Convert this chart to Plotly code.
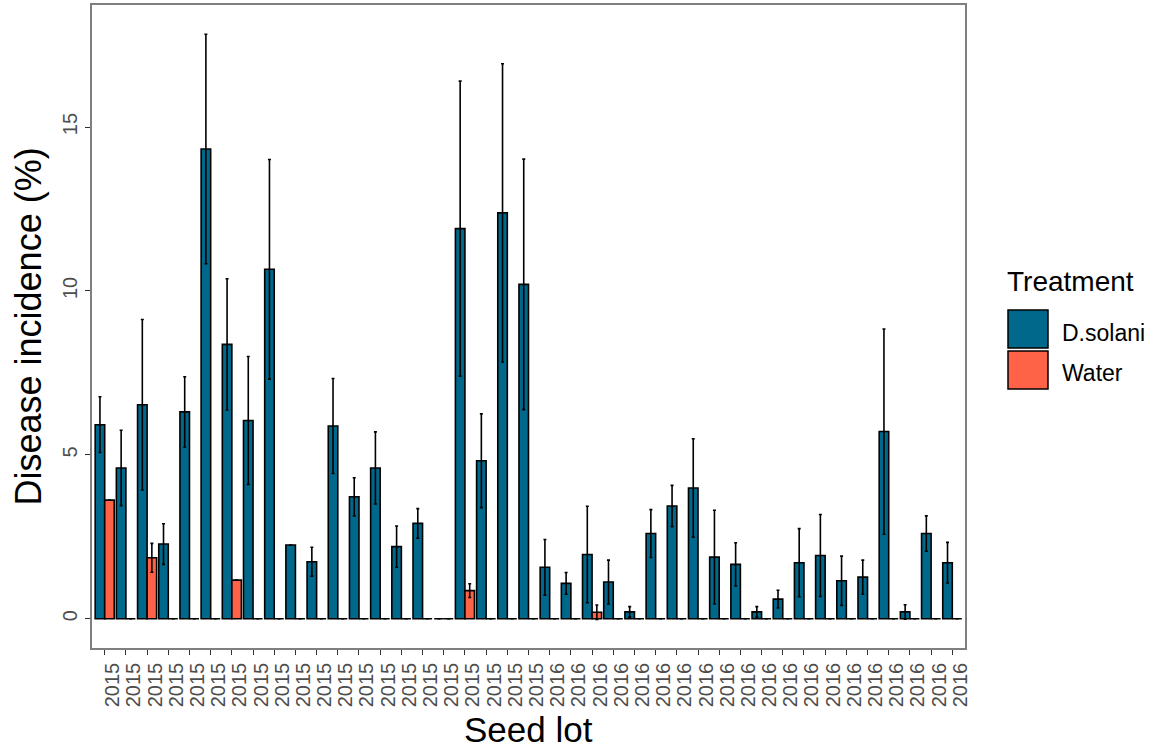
import plotly.graph_objects as go

# ---------------- data ----------------
seed_lot_years = ["2015"] * 21 + ["2016"] * 20

dsolani_mean = [5.92, 4.60, 6.53, 2.28, 6.31, 14.33, 8.37, 6.05, 10.66, 2.25,
                1.74, 5.88, 3.72, 4.60, 2.20, 2.91, 0.00, 11.90, 4.82, 12.38,
                10.20, 1.57, 1.08, 1.96, 1.12, 0.21, 2.60, 3.44, 3.99, 1.88,
                1.66, 0.21, 0.60, 1.71, 1.93, 1.16, 1.27, 5.71, 0.21, 2.60, 1.71]
dsolani_se = [0.85, 1.15, 2.60, 0.62, 1.07, 3.50, 2.00, 1.95, 3.35, 0.00,
              0.44, 1.45, 0.58, 1.10, 0.63, 0.45, 0.00, 4.50, 1.43, 4.55,
              3.82, 0.85, 0.33, 1.47, 0.67, 0.16, 0.73, 0.63, 1.50, 1.43,
              0.66, 0.16, 0.27, 1.04, 1.25, 0.75, 0.52, 3.13, 0.22, 0.54, 0.62]
water_mean = [3.62, 0.00, 1.86, 0.00, 0.00, 0.00, 1.18, 0.00, 0.00, 0.00,
              0.00, 0.00, 0.00, 0.00, 0.00, 0.00, 0.00, 0.86, 0.00, 0.00,
              0.00, 0.00, 0.00, 0.20, 0.00, 0.00, 0.00, 0.00, 0.00, 0.00,
              0.00, 0.00, 0.00, 0.00, 0.00, 0.00, 0.00, 0.00, 0.00, 0.00, 0.00]
water_se = [0.00, 0.00, 0.44, 0.00, 0.00, 0.00, 0.00, 0.00, 0.00, 0.00,
            0.00, 0.00, 0.00, 0.00, 0.00, 0.00, 0.00, 0.21, 0.00, 0.00,
            0.00, 0.00, 0.00, 0.22, 0.00, 0.00, 0.00, 0.00, 0.00, 0.00,
            0.00, 0.00, 0.00, 0.00, 0.00, 0.00, 0.00, 0.00, 0.00, 0.00, 0.00]
y_ticks = [0, 5, 10, 15]
treatments = ["D.solani", "Water"]
colors = ["#00688B", "#FF6347"]

# ---------------- layout geometry ----------------
W, H = 1154, 751
L, R, T, B = 92, 189, 5, 103
PW, PH = W - L - R, H - T - B
FONT = "Liberation Sans, Arial, sans-serif"


def px_x(px):
    return (px - L) / PW


def px_y(py):
    return (H - B - py) / PH


x_idx = list(range(len(seed_lot_years)))

fig = go.Figure()
for name, col, m, se in [(treatments[0], colors[0], dsolani_mean, dsolani_se),
                         (treatments[1], colors[1], water_mean, water_se)]:
    fig.add_bar(
        x=x_idx, y=m, name=name,
        marker=dict(color=col, line=dict(color="black", width=1.6)),
        error_y=dict(type="data", array=se, visible=True, color="black",
                     thickness=1.6, width=1.5),
    )

top = max(a + b for a, b in zip(dsolani_mean, dsolani_se))
fig.update_layout(
    width=W, height=H,
    barmode="group", bargap=0.1, bargroupgap=0,
    plot_bgcolor="white", paper_bgcolor="white",
    showlegend=False,
    margin=dict(l=L, r=R, t=T, b=B, autoexpand=False),
    font=dict(family=FONT),
)
fig.update_xaxes(
    range=[-0.6, len(x_idx) - 0.4],
    tickmode="array", tickvals=x_idx, ticktext=seed_lot_years,
    tickangle=-90, ticks="outside", ticklen=5, tickwidth=1.1, tickcolor="#333333",
    tickfont=dict(family=FONT, size=20, color="#4D4D4D"),
    ticklabelshift=8,
    showline=True, mirror=True, linecolor="#7F7F7F", linewidth=1.5,
    showgrid=False, zeroline=False, automargin=False,
)
fig.update_yaxes(
    range=[-0.05 * top, 1.05 * top],
    tickmode="array", tickvals=y_ticks, ticktext=[str(v) for v in y_ticks],
    tickangle=-90, ticks="outside", ticklen=5, tickwidth=1.1, tickcolor="#333333",
    tickfont=dict(family=FONT, size=20, color="#4D4D4D"),
    showline=True, mirror=True, linecolor="#7F7F7F", linewidth=1.5,
    showgrid=False, zeroline=False, automargin=False,
)

# axis titles
fig.add_annotation(text="Seed lot", xref="paper", yref="paper", x=0.5, y=px_y(729),
                   xanchor="center", yanchor="middle", showarrow=False, borderpad=0,
                   font=dict(family=FONT, size=35, color="black"))
fig.add_annotation(text="Disease incidence (%)", xref="paper", yref="paper",
                   x=px_x(28), y=0.5, textangle=-90,
                   xanchor="center", yanchor="middle", showarrow=False,
                   font=dict(family=FONT, size=36, color="black"))

# legend (drawn manually to match large ggplot keys)
fig.add_annotation(text="Treatment", xref="paper", yref="paper", x=px_x(1005), y=px_y(281),
                   xanchor="left", yanchor="middle", showarrow=False,
                   font=dict(family=FONT, size=28, color="black"))
key_rows = [(310, 348, 333), (351, 389, 373)]
for (y0, y1, ty), name, col in zip(key_rows, treatments, colors):
    fig.add_shape(type="rect", xref="paper", yref="paper",
                  x0=px_x(1008), x1=px_x(1048), y0=px_y(y1), y1=px_y(y0),
                  fillcolor=col, line=dict(color="black", width=1.5))
    fig.add_annotation(text=name, xref="paper", yref="paper", x=px_x(1060), y=px_y(ty),
                       xanchor="left", yanchor="middle", showarrow=False,
                       font=dict(family=FONT, size=23, color="black"))

fig.write_html("out.html")
